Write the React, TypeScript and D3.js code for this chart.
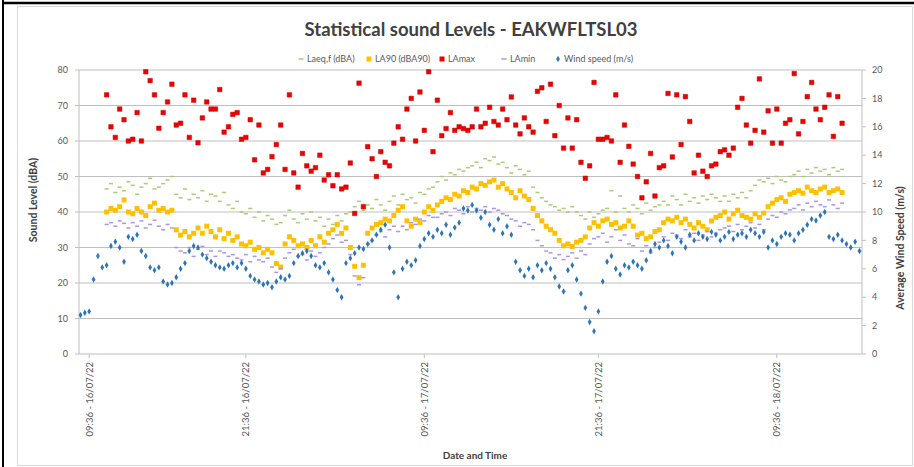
import React from "react";
import * as d3 from "d3";

// ---------- data ----------
const title = "Statistical sound Levels - EAKWFLTSL03";
const seriesNames = ["Laeq,f (dBA)", "LA90 (dBA90)", "LAmax", "LAmin", "Wind speed (m/s)"];
const tickLabels = ["09:36 - 16/07/22", "21:36 - 16/07/22", "09:36 - 17/07/22", "21:36 - 17/07/22", "09:36 - 18/07/22"];
const tickIndex = [2, 38, 79, 119, 160];
const leftTicks = [0, 10, 20, 30, 40, 50, 60, 70, 80];
const rightTicks = [0, 2, 4, 6, 8, 10, 12, 14, 16, 18, 20];
const pointCount = 180;
const soundStart = 6; // index of the first sound-level sample

const laMax = [
  73, 64, 61, 69, 66, 60, 60.5, 68, 60, 79.5,
  77, 73, 63.6, 68, 71, 76, 64.5, 65, 73, 61,
  71.5, 59.5, 66.5, 71, 69, 69, 74.5, 62.5, 64, 67.5,
  68, 60.5, 61, 66, 54.7, 64.5, 51, 52, 55.6, 59,
  64.5, 52, 73, 51, 47, 56.5, 53, 51.5, 52.5, 56,
  49, 50.5, 47.4, 50.5, 46.5, 47, 53.8, 39.6, 76.3, 41.5,
  58.4, 55, 50, 57, 54, 53, 59.4, 64, 60.5, 69,
  72, 60, 73.8, 63, 79.5, 57, 71.5, 61.5, 63.5, 68,
  63, 64, 63.5, 63, 64, 69, 64, 65, 69.5, 65.5,
  64.5, 69, 66, 72.4, 64.5, 62, 66.5, 64, 62.5, 74,
  75, 65.5, 76, 61.5, 70, 58, 66.5, 58, 66, 54,
  49.5, 53, 76.5, 60.5, 60.5, 61, 60, 73, 54, 64.5,
  58.5, 53.5, 50, 44, 48.5, 56.5, 44.5, 52.5, 53, 73.4,
  55.5, 73, 59, 72.5, 65.5, 51, 56, 51.5, 50, 53,
  53.5, 57, 57.5, 56, 58, 69.5, 72, 64.5, 59.4, 63,
  77.5, 62.5, 68.5, 59.4, 69, 59.4, 65, 66, 79, 62,
  65.5, 72.5, 76.5, 69, 66, 69.5, 73, 61.3, 72.5, 65,
];

const laeq = [
  46.5, 48, 45.5, 47, 46, 48.5, 47.5, 45, 47, 48,
  49.5, 46.5, 47, 48, 49, 50, 45, 44, 46.5, 43.5,
  45, 44, 46, 43, 45, 44.5, 43, 45.5, 42, 41,
  43, 40, 39.5, 41, 38.5, 40, 37.5, 39, 38, 36.5,
  37, 39, 40.5, 38, 37, 39.5, 38, 40, 37.5, 38.5,
  36, 38, 36.5, 39, 37.5, 39.5, 40, 41.5, 43, 40.5,
  42, 41, 43.5, 42, 40.5, 43, 44.5, 42, 45, 43.5,
  44, 42.5, 45.5, 45, 46.5, 47, 48.5, 50, 49, 51,
  50.5, 52, 51.5, 52.5, 53, 54, 52.5, 55, 54.5, 55.5,
  53.5, 54, 52.5, 51, 53, 52, 50.5, 51.5, 47, 45.5,
  44, 43, 42, 41.5, 40.5, 41, 40, 41.5, 40, 39,
  38, 40, 38.5, 39.5, 40.5, 41, 46, 40, 44.5, 41,
  40, 42, 41, 39.5, 42.5, 40.5, 41.5, 42, 43, 42,
  44.5, 43.5, 42, 45, 43, 44, 42.5, 44.5, 43.5, 45,
  44, 43, 44.5, 43, 45, 44, 45.5, 44, 46, 47.5,
  49, 48.5, 49.5, 48, 50, 49, 48.5, 50, 50.5, 51.5,
  50, 52, 51, 52.5, 51.5, 52, 50.5, 52.5, 51.5, 52,
];

const la90 = [
  40, 41, 40.5, 41.5, 43.4, 40, 39.5, 41, 40, 39,
  41.5, 42.5, 40.5, 41, 40, 40.5, 35, 33.5, 34.5, 33,
  34, 35.5, 34, 36, 34.5, 33, 35, 32.5, 34, 32,
  33, 31, 30.5, 31.5, 29.5, 30, 28.5, 29.5, 28.5, 25.5,
  24.5, 31, 33, 32, 30.5, 31, 30, 32, 30.5, 33,
  31.5, 34, 35, 36.5, 34, 35.5, 30, 24.7, 21.5, 25,
  34, 35.5, 36.5, 37, 38, 37.5, 39, 40.5, 41.5, 37.5,
  36, 38, 37, 40, 41.5, 40.5, 42, 43, 44, 43.5,
  45, 44.5, 46, 45.5, 47, 46.5, 48, 47.5, 48.5, 49,
  47, 48, 46.5, 45.5, 44, 46, 44.5, 43.5, 41, 39,
  37.5, 36, 35, 34, 32, 30.5, 31, 30.3, 31.5, 32,
  33, 35.5, 37, 36, 37.5, 38, 36.5, 37, 35.5, 36,
  37.5, 36, 33.5, 34, 32.5, 33, 34.5, 35, 37, 38,
  37.5, 38.5, 37, 38, 36.5, 35.5, 37, 36, 35, 37.5,
  38.5, 39, 40, 38, 39.5, 40.5, 39, 38.5, 38, 39.5,
  38.5, 39.7, 41.5, 42.5, 43.5, 44, 43, 45, 45.5, 46,
  45.3, 47, 46, 45.5, 46.5, 47, 45.5, 46, 46.5, 45.5,
];

const laMin = [
  36.5, 37, 36, 37.5, 36.8, 35.5, 37, 36, 37.5, 35.5,
  36.5, 37.7, 36, 35, 36.5, 35.5, 30, 29, 28.5, 30,
  27.5, 29.5, 30.3, 28, 29, 27.5, 29, 28.5, 27.5, 28,
  27, 26.5, 28, 26, 27.5, 26.5, 26, 27, 24.5, 23,
  24, 27, 28.5, 29.5, 27.5, 28, 26.5, 29, 27.5, 28.5,
  30, 31, 32.5, 33.5, 31.5, 32, 28, 22, 19.5, 21.5,
  31, 32, 33.5, 34.5, 33, 35, 36, 34.5, 36, 35,
  37, 36.5, 38, 37.5, 39, 38.5, 38.5, 39.5, 40, 39,
  41, 40.5, 39.5, 41.5, 40, 41, 40.5, 41.5, 40, 41,
  40.5, 39.5, 39, 38, 37.5, 36, 37, 36.5, 35, 32,
  30.5, 29, 28.5, 27, 28, 26.6, 27.5, 28.5, 27, 29,
  28, 31, 32.5, 33, 34, 31.5, 33, 35, 32, 33.5,
  31, 30.5, 32.5, 29, 30.5, 28.5, 30, 31.5, 33, 32,
  34, 33.5, 32.5, 35, 33, 34, 32, 33.5, 34.5, 33,
  34, 35, 35.5, 36, 34.5, 36.5, 35, 36, 37, 35.5,
  36.5, 35, 38, 39, 38.5, 40, 39.5, 40.6, 41, 42,
  40.6, 42.5, 41.5, 43, 42, 41.5, 43.4, 42, 41, 42.5,
];

const windSpeed = [
  2.75, 2.9, 3.0, 5.25, 6.9, 6.1, 6.25, 7.6, 7.9, 7.5,
  6.5, 8.25, 8.1, 8.4, 7.25, 6.9, 6.1, 5.9, 6.1, 5.1,
  4.9, 5.0, 5.4, 6.0, 6.4, 7.25, 7.6, 7.5, 7.0, 6.75,
  6.5, 6.25, 6.1, 6.0, 6.25, 6.4, 6.1, 6.4, 6.0, 5.5,
  5.25, 5.1, 4.9, 5.0, 4.7, 5.1, 5.4, 5.25, 5.5, 6.4,
  6.9, 7.1, 7.25, 6.9, 6.25, 6.1, 6.4, 5.75, 5.25, 4.5,
  4.0, 6.4, 6.75, 7.1, 7.5, 7.4, 7.75, 8.0, 8.4, 8.75,
  9.1, 7.5, 5.75, 4.0, 6.0, 6.5, 6.25, 6.6, 7.6, 8.1,
  8.5, 8.25, 8.75, 8.5, 9.1, 8.4, 8.9, 9.25, 10.25, 10.1,
  10.5, 10.1, 9.6, 10.0, 9.1, 8.75, 9.5, 8.5, 9.0, 8.4,
  6.5, 5.9, 5.5, 6.0, 5.4, 6.25, 5.9, 6.4, 6.0, 5.4,
  4.75, 4.4, 5.9, 6.25, 5.25, 4.25, 3.25, 2.25, 1.6, 3.0,
  5.1, 6.5, 6.9, 6.0, 5.6, 6.25, 6.1, 6.5, 6.25, 6.0,
  6.6, 7.25, 7.75, 7.5, 8.0, 7.6, 7.1, 8.25, 7.9, 7.5,
  8.4, 8.0, 8.5, 8.25, 8.1, 8.6, 8.4, 8.0, 8.25, 8.6,
  8.1, 8.4, 8.5, 8.25, 8.75, 8.5, 8.25, 8.6, 7.5, 8.0,
  7.75, 8.25, 8.5, 8.4, 8.0, 8.5, 8.75, 9.1, 9.5, 9.4,
  9.75, 10.0, 8.25, 8.1, 8.4, 8.0, 7.75, 7.5, 7.9, 7.25,
];

// ---------- layout ----------
const W = 914;
const H = 467;
const M = { left: 79, right: 862, top: 70, bottom: 354 };
const FONT = "Lato, 'Open Sans', sans-serif";

const colors = {
  laeq: "#A8CC78",
  la90: "#FFC000",
  laMax: "#F00000",
  laMin: "#A897E6",
  wind: "#2E75B6",
};

export default function App() {
  const x = d3.scaleLinear().domain([0, pointCount - 1]).range([80.5, 859.5]);
  const y = d3.scaleLinear().domain([0, 80]).range([M.bottom, M.top]);
  const yW = d3.scaleLinear().domain([0, 20]).range([M.bottom, M.top]);

  const sq = (cx: number, cy: number, s: number) => `M${cx - s / 2},${cy - s / 2}h${s}v${s}h${-s}Z`;
  const diamond = d3.symbol().type(d3.symbolDiamond).size(12)();

  const legendItems = [
    { name: seriesNames[0], x: 301, kind: "dash", color: colors.laeq },
    { name: seriesNames[1], x: 369, kind: "square", color: colors.la90 },
    { name: seriesNames[2], x: 442, kind: "square", color: colors.laMax },
    { name: seriesNames[3], x: 504, kind: "dash", color: colors.laMin },
    { name: seriesNames[4], x: 558, kind: "diamond", color: colors.wind },
  ];

  return (
    <svg width={W} height={H} style={{ position: "absolute", left: 0, top: 0, background: "#fff" }} fontFamily={FONT}>
      {/* outer frame */}
      <rect x={17.5} y={6.5} width={895} height={459} fill="#fff" stroke="#D9D9D9" />
      <line x1={3} x2={3} y1={0} y2={H} stroke="#000" strokeWidth={2} />
      <line x1={2} x2={W} y1={3} y2={3} stroke="#000" strokeWidth={2.5} />

      {/* title */}
      <text x={471} y={36} textAnchor="middle" fontSize={18.5} fontWeight={700} fill="#404040">{title}</text>

      {/* legend */}
      {legendItems.map((it) => (
        <g key={it.name} transform={`translate(${it.x},59)`}>
          {it.kind === "dash" && <rect x={-2.5} y={-0.75} width={5} height={1.5} fill={it.color} />}
          {it.kind === "square" && <rect x={-2.5} y={-2.5} width={5} height={5} fill={it.color} />}
          {it.kind === "diamond" && <path d={diamond} fill={it.color} />}
          <text x={6} y={0} dy="0.35em" fontSize={9} fill="#595959">{it.name}</text>
        </g>
      ))}

      {/* gridlines */}
      {leftTicks.map((t) => (
        <line key={"g" + t} x1={M.left} x2={M.right} y1={y(t)} y2={y(t)} stroke="#BFBFBF" strokeWidth={1} />
      ))}
      {/* axes */}
      <line x1={M.left} x2={M.left} y1={M.top} y2={M.bottom} stroke="#BFBFBF" />
      <line x1={M.right} x2={M.right} y1={M.top} y2={M.bottom} stroke="#BFBFBF" />
      {leftTicks.map((t) => (
        <g key={"l" + t}>
          <line x1={M.left - 4} x2={M.left} y1={y(t)} y2={y(t)} stroke="#BFBFBF" />
          <text x={68} y={y(t)} dy="0.35em" textAnchor="end" fontSize={9} fill="#595959">{t}</text>
        </g>
      ))}
      {rightTicks.map((t) => (
        <g key={"r" + t}>
          <line x1={M.right} x2={M.right + 4} y1={yW(t)} y2={yW(t)} stroke="#BFBFBF" />
          <text x={872} y={yW(t)} dy="0.35em" textAnchor="start" fontSize={9} fill="#595959">{t}</text>
        </g>
      ))}
      {tickIndex.map((ti, k) => (
        <g key={"x" + ti}>
          <line x1={x(ti)} x2={x(ti)} y1={M.bottom} y2={M.bottom + 4} stroke="#BFBFBF" />
          <text transform={`translate(${x(ti)},${M.bottom + 8}) rotate(-90)`} dy="0.35em" textAnchor="end" fontSize={9.5} fill="#595959">
            {tickLabels[k]}
          </text>
        </g>
      ))}

      {/* axis titles */}
      <text transform={`translate(37,200) rotate(-90)`} textAnchor="middle" fontSize={10.5} fontWeight={700} fill="#404040">Sound Level (dBA)</text>
      <text transform={`translate(904,248) rotate(-90)`} textAnchor="middle" fontSize={10.5} fontWeight={700} fill="#404040">Average Wind Speed (m/s)</text>
      <text x={475} y={459} textAnchor="middle" fontSize={10} fontWeight={700} fill="#404040">Date and Time</text>

      {/* series */}
      <g>
        {laeq.map((v, i) => (
          <rect key={"eq" + i} x={x(i + soundStart) - 2} y={y(v) - 0.75} width={4} height={1.5} fill={colors.laeq} />
        ))}
      </g>
      <g>
        {la90.map((v, i) => (
          <path key={"90" + i} d={sq(x(i + soundStart), y(v), 5)} fill={colors.la90} />
        ))}
      </g>
      <g>
        {laMax.map((v, i) => (
          <path key={"mx" + i} d={sq(x(i + soundStart), y(v), 4.5)} fill={colors.laMax} stroke="#C00000" strokeWidth={0.5} />
        ))}
      </g>
      <g>
        {laMin.map((v, i) => (
          <rect key={"mn" + i} x={x(i + soundStart) - 2} y={y(v) - 0.75} width={4} height={1.5} fill={colors.laMin} />
        ))}
      </g>
      <g>
        {windSpeed.map((v, i) => (
          <path key={"w" + i} d={diamond} transform={`translate(${x(i)},${yW(v)})`} fill={colors.wind} />
        ))}
      </g>
    </svg>
  );
}
